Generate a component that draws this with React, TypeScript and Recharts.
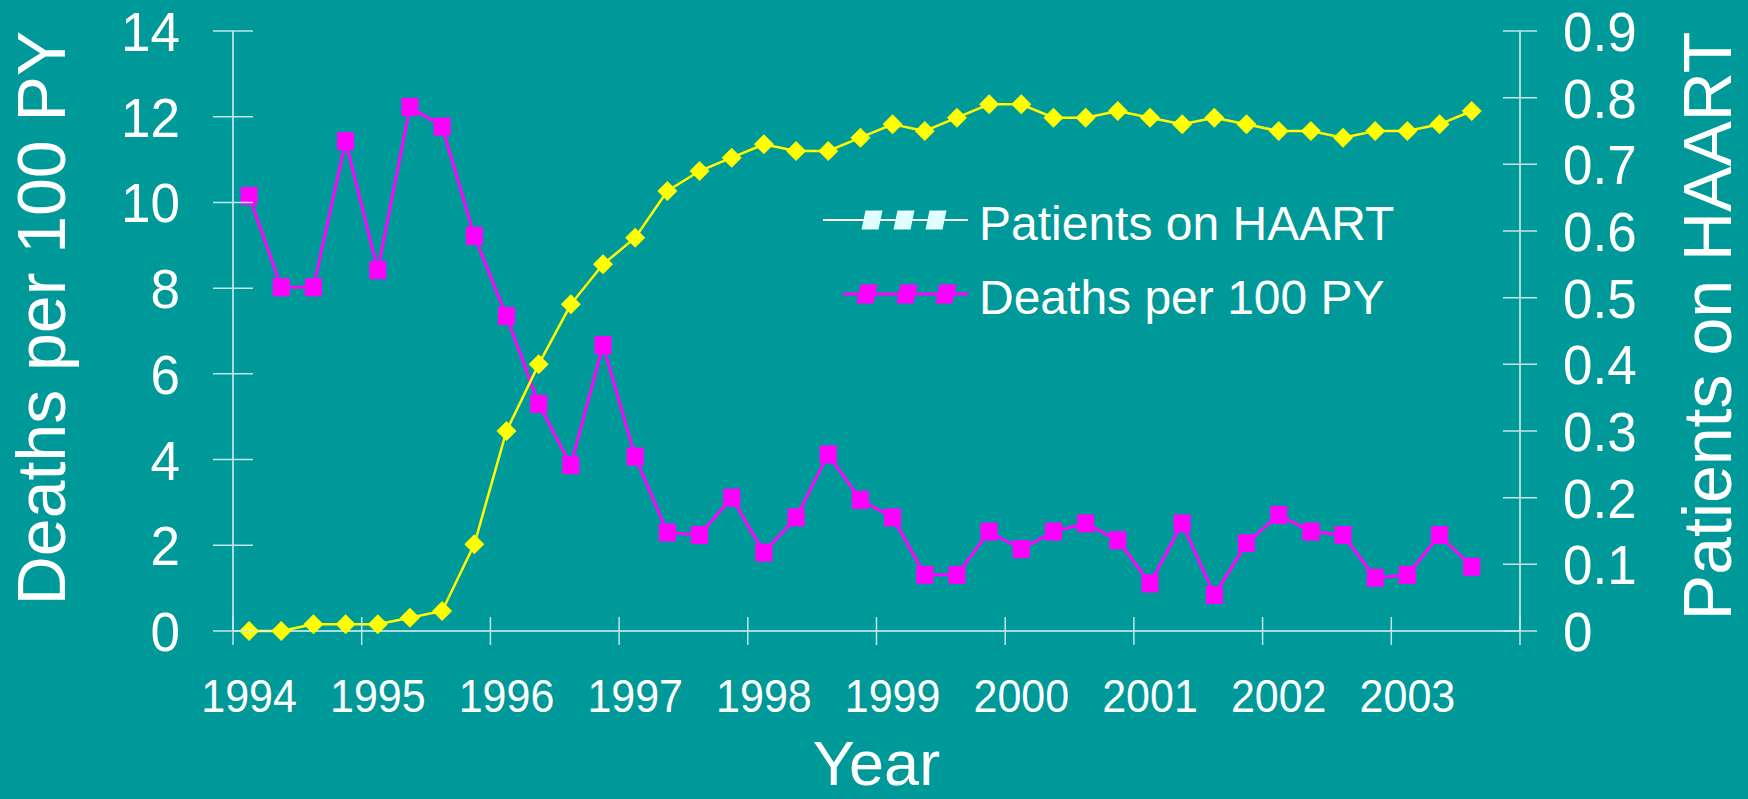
import { LineChart, Line, XAxis, YAxis, Legend } from 'recharts';

// quarterly points, 1994 Q1 .. 2003 Q3
const years = ['1994', '1995', '1996', '1997', '1998', '1999', '2000', '2001', '2002', '2003'];

const deathsPer100PY = [
  10.15, 8.02, 8.02, 11.43, 8.42, 12.23, 11.77, 9.22, 7.35, 5.3,
  3.87, 6.67, 4.07, 2.3, 2.24, 3.11, 1.83, 2.65, 4.12, 3.06,
  2.65, 1.31, 1.31, 2.32, 1.91, 2.32, 2.51, 2.12, 1.11, 2.51,
  0.84, 2.05, 2.71, 2.32, 2.24, 1.24, 1.31, 2.24, 1.5,
];

const patientsOnHaart = [
  0, 0, 0.01, 0.01, 0.01, 0.02, 0.03, 0.13, 0.3, 0.4,
  0.49, 0.55, 0.59, 0.66, 0.69, 0.71, 0.73, 0.72, 0.72, 0.74,
  0.76, 0.75, 0.77, 0.79, 0.79, 0.77, 0.77, 0.78, 0.77, 0.76,
  0.77, 0.76, 0.75, 0.75, 0.74, 0.75, 0.75, 0.76, 0.78,
];

const leftTicks = [0, 2, 4, 6, 8, 10, 12, 14];
const rightTicks = [0, 0.1, 0.2, 0.3, 0.4, 0.5, 0.6, 0.7, 0.8, 0.9];

const PER_YEAR = 4;
const BG = '#009999';
const PINK = '#ff00ff';
const YELLOW = '#ffff00';
const AXIS = '#e2f4f4';
const TICK = '#c4e6e6';
const FONT = '"Liberation Sans", Arial, sans-serif';

const data = deathsPer100PY.map((d, i) => ({ q: i, deaths: d, haart: patientsOnHaart[i] }));

// tick marks sit between quarters, year labels sit on the first quarter
const slots = years.length * PER_YEAR;
const xTicks = years.flatMap((_, k) => [k * PER_YEAR - 0.5, k * PER_YEAR]).concat([slots - 0.5]);

// the original slide text is a little taller than it is wide
const Stretched = ({ x, y, sy, anchor, size, children }: any) => (
  <text
    transform={`translate(${x},${y}) scale(1,${sy})`}
    textAnchor={anchor}
    fill="#fff"
    fontSize={size}
    fontFamily={FONT}
  >
    {children}
  </text>
);

const XTick = ({ x, y, payload }: any) => {
  const v = payload.value;
  if (Number.isInteger(v)) {
    return (
      <Stretched x={x} y={y + 81} sy={1.06} anchor="middle" size={43}>
        {years[v / PER_YEAR]}
      </Stretched>
    );
  }
  return <line x1={x} x2={x} y1={y - 14} y2={y + 14} stroke={TICK} strokeWidth={1.5} />;
};

const LeftTick = ({ x, y, payload }: any) => (
  <g>
    <line x1={x - 20} x2={x + 20} y1={y} y2={y} stroke={TICK} strokeWidth={1.5} />
    <Stretched x={x - 53} y={y + 20} sy={1.05} anchor="end" size={53}>
      {payload.value}
    </Stretched>
  </g>
);

const RightTick = ({ x, y, payload }: any) => (
  <g>
    <line x1={x - 17} x2={x + 17} y1={y} y2={y} stroke={TICK} strokeWidth={1.5} />
    <Stretched x={x + 43} y={y + 20} sy={1.05} anchor="start" size={53}>
      {payload.value}
    </Stretched>
  </g>
);

const squareDot = ({ cx, cy, index }: any) => (
  <rect key={`sq-${index}`} x={cx - 8.5} y={cy - 9} width={17} height={18} fill={PINK} />
);

const diamondDot = ({ cx, cy, index }: any) => (
  <polygon
    key={`dm-${index}`}
    points={`${cx},${cy - 10} ${cx + 10},${cy} ${cx},${cy + 10} ${cx - 10},${cy}`}
    fill={YELLOW}
  />
);

const legendStyle: Record<string, any> = {
  haart: { line: '#ffffff', lineW: 2, marker: '#e0ffff', x0: 23, y: 40, marks: [72, 104, 136] },
  deaths: { line: PINK, lineW: 3, marker: PINK, x0: 43, y: 114, marks: [67, 107, 146] },
};

const LegendBox = ({ payload }: any) => {
  const items = ['haart', 'deaths']
    .map((k) => (payload || []).find((p: any) => p.dataKey === k))
    .filter(Boolean);
  return (
    <svg width={620} height={160}>
      {items.map((p: any) => {
        const s = legendStyle[p.dataKey];
        return (
          <g key={p.dataKey}>
            <line x1={s.x0} x2={168} y1={s.y} y2={s.y} stroke={s.line} strokeWidth={s.lineW} />
            {s.marks.map((m: number) => (
              <polygon
                key={m}
                points={`${m - 6.5},${s.y - 9.5} ${m + 10.5},${s.y - 9.5} ${m + 6.5},${s.y + 9.5} ${m - 10.5},${s.y + 9.5}`}
                fill={s.marker}
              />
            ))}
            <text x={179} y={s.y + 20} fill="#fff" fontSize={48} fontFamily={FONT}>
              {p.value}
            </text>
          </g>
        );
      })}
    </svg>
  );
};

export default function App() {
  return (
    <div style={{ position: 'fixed', left: 0, top: 0, width: 1748, height: 799, background: BG }}>
      <LineChart width={1748} height={799} data={data} margin={{ top: 31, right: 0, bottom: 0, left: 0 }}>
        <XAxis
          dataKey="q"
          type="number"
          domain={[-0.5, slots - 0.5]}
          ticks={xTicks}
          interval={0}
          tick={<XTick />}
          tickLine={false}
          tickSize={0}
          tickMargin={0}
          height={168}
          axisLine={{ stroke: AXIS, strokeWidth: 1.5 }}
          allowDataOverflow
          label={{ value: 'Year', position: 'insideBottom', offset: 14, fill: '#fff', fontSize: 63, fontFamily: FONT }}
        />
        <YAxis
          yAxisId="left"
          domain={[0, 14]}
          ticks={leftTicks}
          interval={0}
          width={233}
          tick={<LeftTick />}
          tickLine={false}
          tickSize={0}
          tickMargin={0}
          axisLine={{ stroke: AXIS, strokeWidth: 1.5 }}
          label={({ viewBox }: any) => (
            <text
              x={viewBox.x + 65}
              y={viewBox.y + viewBox.height / 2 - 13}
              transform={`rotate(-90, ${viewBox.x + 65}, ${viewBox.y + viewBox.height / 2 - 13})`}
              textAnchor="middle"
              fill="#fff"
              fontSize={68}
              fontFamily={FONT}
            >
              Deaths per 100 PY
            </text>
          )}
        />
        <YAxis
          yAxisId="right"
          orientation="right"
          domain={[0, 0.9]}
          ticks={rightTicks}
          interval={0}
          width={228}
          tick={<RightTick />}
          tickLine={false}
          tickSize={0}
          tickMargin={0}
          axisLine={{ stroke: AXIS, strokeWidth: 1.5 }}
          label={({ viewBox }: any) => (
            <text
              x={viewBox.x + 211}
              y={viewBox.y + viewBox.height / 2 - 5}
              transform={`rotate(-90, ${viewBox.x + 211}, ${viewBox.y + viewBox.height / 2 - 5})`}
              textAnchor="middle"
              fill="#fff"
              fontSize={68}
              fontFamily={FONT}
            >
              Patients on HAART
            </text>
          )}
        />
        <Legend
          layout="vertical"
          align="center"
          verticalAlign="middle"
          wrapperStyle={{ left: 800, top: 180, width: 620, height: 160 }}
          content={<LegendBox />}
        />
        <Line
          yAxisId="left"
          dataKey="deaths"
          name="Deaths per 100 PY"
          stroke={PINK}
          strokeWidth={3}
          dot={squareDot}
          activeDot={false}
          isAnimationActive={false}
        />
        <Line
          yAxisId="right"
          dataKey="haart"
          name="Patients on HAART"
          stroke={YELLOW}
          strokeWidth={2.5}
          dot={diamondDot}
          activeDot={false}
          isAnimationActive={false}
        />
      </LineChart>
    </div>
  );
}
